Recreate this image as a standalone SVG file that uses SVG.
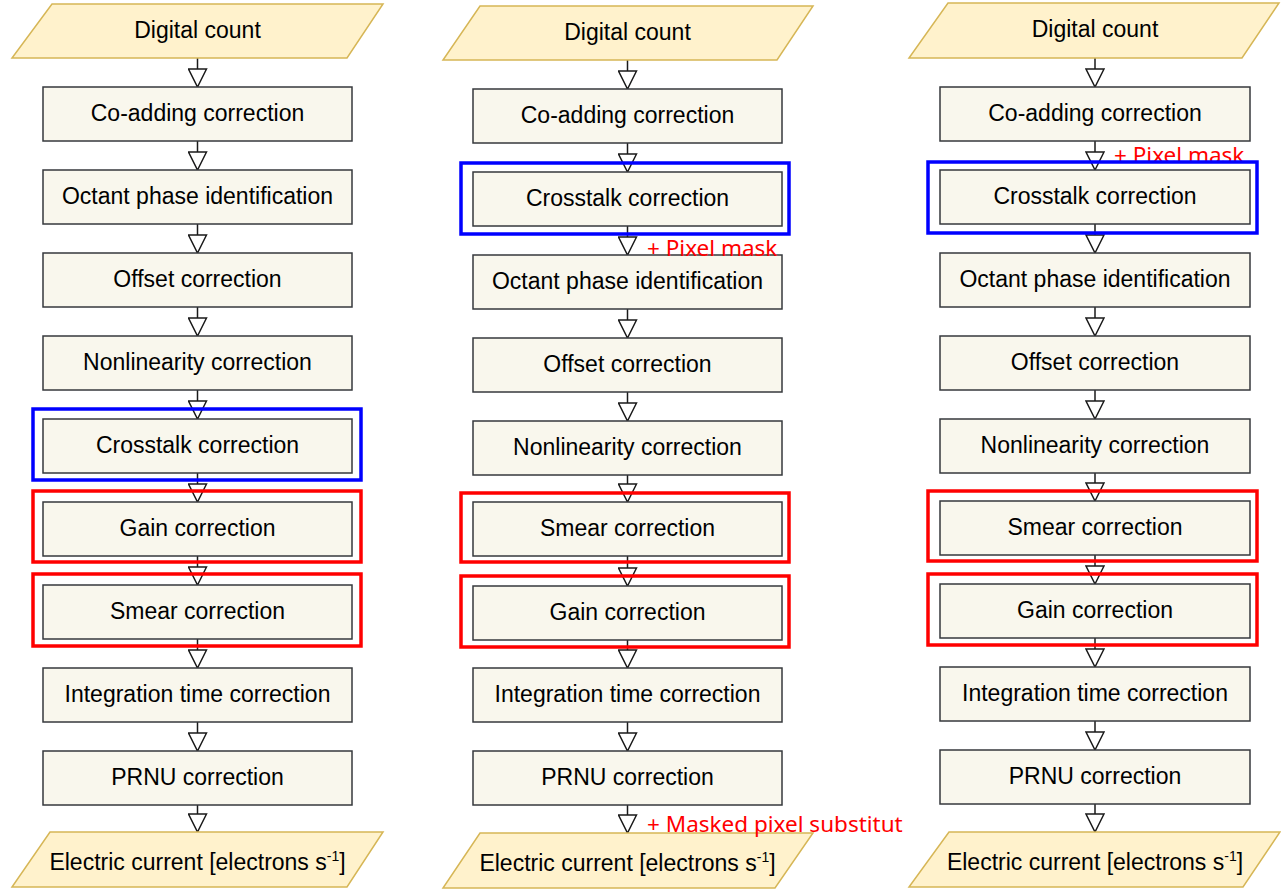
<svg xmlns="http://www.w3.org/2000/svg" width="1281" height="893" viewBox="0 0 1281 893">
<defs>
<marker id="tri" viewBox="0 0 20 20" refX="19" refY="10" markerWidth="20" markerHeight="20" markerUnits="userSpaceOnUse" orient="auto">
<path d="M1,1 L19,10 L1,19 Z" fill="#ffffff" stroke="#1a1a1a" stroke-width="1.5" stroke-linejoin="miter"/>
</marker>
</defs>
<style>
.io{fill:#fff2cc;stroke:#d6b656;stroke-width:1.5}
.box{fill:#f9f7ed;stroke:#36393d;stroke-width:1.5}
.t{font-family:"Liberation Sans",Arial,Helvetica,sans-serif;font-size:23px;fill:#000;text-anchor:middle}
.sup{font-size:14px}
.c{stroke:#1a1a1a;stroke-width:1.5;fill:none;marker-end:url(#tri)}
.note{font-family:"Noto Sans","Liberation Sans",sans-serif;font-size:22.5px;fill:#ff0000}
.hb{fill:none;stroke:#0000ff;stroke-width:3.5}
.hr{fill:none;stroke:#ff0000;stroke-width:3.5}
</style>
<rect width="1281" height="893" fill="#ffffff"/>

<g id="connectors">
<!-- column 1 -->
<path class="c" d="M197.5,58 V87"/>
<path class="c" d="M197.5,141 V170"/>
<path class="c" d="M197.5,224 V253"/>
<path class="c" d="M197.5,307 V336"/>
<path class="c" d="M197.5,390 V419"/>
<path class="c" d="M197.5,473 V502"/>
<path class="c" d="M197.5,556 V585"/>
<path class="c" d="M197.5,639 V668"/>
<path class="c" d="M197.5,722 V751"/>
<path class="c" d="M197.5,805 V832"/>
<!-- column 2 -->
<path class="c" d="M627.5,60 V89"/>
<path class="c" d="M627.5,143 V172"/>
<path class="c" d="M627.5,226 V255"/>
<path class="c" d="M627.5,309 V338"/>
<path class="c" d="M627.5,392 V421"/>
<path class="c" d="M627.5,475 V502"/>
<path class="c" d="M627.5,556 V586"/>
<path class="c" d="M627.5,640 V668"/>
<path class="c" d="M627.5,722 V751"/>
<path class="c" d="M627.5,805 V833"/>
<!-- column 3 -->
<path class="c" d="M1095,58 V87"/>
<path class="c" d="M1095,141 V170"/>
<path class="c" d="M1095,224 V253"/>
<path class="c" d="M1095,307 V336"/>
<path class="c" d="M1095,390 V419"/>
<path class="c" d="M1095,473 V501"/>
<path class="c" d="M1095,555 V584"/>
<path class="c" d="M1095,638 V667"/>
<path class="c" d="M1095,721 V750"/>
<path class="c" d="M1095,804 V832"/>
</g>

<!-- Column 1 -->
<g id="c1-digital"><polygon class="io" points="52,4 383,4 347,58 12,58"/><text class="t" x="197.5" y="38">Digital count</text></g>
<g id="c1-coadd"><rect class="box" x="43" y="87" width="309" height="54"/><text class="t" x="197.5" y="121">Co-adding correction</text></g>
<g id="c1-octant"><rect class="box" x="43" y="170" width="309" height="54"/><text class="t" x="197.5" y="204">Octant phase identification</text></g>
<g id="c1-offset"><rect class="box" x="43" y="253" width="309" height="54"/><text class="t" x="197.5" y="287">Offset correction</text></g>
<g id="c1-nonlin"><rect class="box" x="43" y="336" width="309" height="54"/><text class="t" x="197.5" y="370">Nonlinearity correction</text></g>
<g id="c1-crosstalk"><rect class="box" x="43" y="419" width="309" height="54"/><text class="t" x="197.5" y="453">Crosstalk correction</text></g>
<g id="c1-gain"><rect class="box" x="43" y="502" width="309" height="54"/><text class="t" x="197.5" y="536">Gain correction</text></g>
<g id="c1-smear"><rect class="box" x="43" y="585" width="309" height="54"/><text class="t" x="197.5" y="619">Smear correction</text></g>
<g id="c1-integ"><rect class="box" x="43" y="668" width="309" height="54"/><text class="t" x="197.5" y="702">Integration time correction</text></g>
<g id="c1-prnu"><rect class="box" x="43" y="751" width="309" height="54"/><text class="t" x="197.5" y="785">PRNU correction</text></g>
<g id="c1-electric"><polygon class="io" points="50,832 383,832 347,887 12,887"/><text class="t" x="197.5" y="870">Electric current [electrons s<tspan class="sup" dy="-9">-1</tspan><tspan dy="9">]</tspan></text></g>

<!-- Column 2 -->
<g id="c2-digital"><polygon class="io" points="480,6 813,6 777,60 443,60"/><text class="t" x="627.5" y="40">Digital count</text></g>
<g id="c2-coadd"><rect class="box" x="473" y="89" width="309" height="54"/><text class="t" x="627.5" y="123">Co-adding correction</text></g>
<g id="c2-crosstalk"><rect class="box" x="473" y="172" width="309" height="54"/><text class="t" x="627.5" y="206">Crosstalk correction</text></g>
<g id="c2-octant"><rect class="box" x="473" y="255" width="309" height="54"/><text class="t" x="627.5" y="289">Octant phase identification</text></g>
<g id="c2-offset"><rect class="box" x="473" y="338" width="309" height="54"/><text class="t" x="627.5" y="372">Offset correction</text></g>
<g id="c2-nonlin"><rect class="box" x="473" y="421" width="309" height="54"/><text class="t" x="627.5" y="455">Nonlinearity correction</text></g>
<g id="c2-smear"><rect class="box" x="473" y="502" width="309" height="54"/><text class="t" x="627.5" y="536">Smear correction</text></g>
<g id="c2-gain"><rect class="box" x="473" y="586" width="309" height="54"/><text class="t" x="627.5" y="620">Gain correction</text></g>
<g id="c2-integ"><rect class="box" x="473" y="668" width="309" height="54"/><text class="t" x="627.5" y="702">Integration time correction</text></g>
<g id="c2-prnu"><rect class="box" x="473" y="751" width="309" height="54"/><text class="t" x="627.5" y="785">PRNU correction</text></g>
<g id="c2-electric"><polygon class="io" points="480,833 813,833 775,888 443,888"/><text class="t" x="627.5" y="871">Electric current [electrons s<tspan class="sup" dy="-9">-1</tspan><tspan dy="9">]</tspan></text></g>

<!-- Column 3 -->
<g id="c3-digital"><polygon class="io" points="948,3 1279,3 1242,58 909,58"/><text class="t" x="1095" y="37">Digital count</text></g>
<g id="c3-coadd"><rect class="box" x="940" y="87" width="310" height="54"/><text class="t" x="1095" y="121">Co-adding correction</text></g>
<g id="c3-crosstalk"><rect class="box" x="940" y="170" width="310" height="54"/><text class="t" x="1095" y="204">Crosstalk correction</text></g>
<g id="c3-octant"><rect class="box" x="940" y="253" width="310" height="54"/><text class="t" x="1095" y="287">Octant phase identification</text></g>
<g id="c3-offset"><rect class="box" x="940" y="336" width="310" height="54"/><text class="t" x="1095" y="370">Offset correction</text></g>
<g id="c3-nonlin"><rect class="box" x="940" y="419" width="310" height="54"/><text class="t" x="1095" y="453">Nonlinearity correction</text></g>
<g id="c3-smear"><rect class="box" x="940" y="501" width="310" height="54"/><text class="t" x="1095" y="535">Smear correction</text></g>
<g id="c3-gain"><rect class="box" x="940" y="584" width="310" height="54"/><text class="t" x="1095" y="618">Gain correction</text></g>
<g id="c3-integ"><rect class="box" x="940" y="667" width="310" height="54"/><text class="t" x="1095" y="701">Integration time correction</text></g>
<g id="c3-prnu"><rect class="box" x="940" y="750" width="310" height="54"/><text class="t" x="1095" y="784">PRNU correction</text></g>
<g id="c3-electric"><polygon class="io" points="949,832 1280,832 1243,887 909,887"/><text class="t" x="1095" y="870">Electric current [electrons s<tspan class="sup" dy="-9">-1</tspan><tspan dy="9">]</tspan></text></g>

<g id="notes">
<text class="note" x="647" y="256">+ Pixel mask</text>
<text class="note" x="647" y="832">+ Masked pixel substitut</text>
<text class="note" x="1114" y="163">+ Pixel mask</text>
</g>

<g id="highlights">
<rect class="hb" x="33" y="409" width="328" height="71"/>
<rect class="hr" x="33" y="491" width="328" height="71"/>
<rect class="hr" x="33" y="574" width="328" height="72"/>
<rect class="hb" x="461" y="163" width="328" height="71"/>
<rect class="hr" x="461" y="493" width="328" height="69"/>
<rect class="hr" x="461" y="576" width="328" height="71"/>
<rect class="hb" x="928" y="162" width="329" height="71"/>
<rect class="hr" x="928" y="491" width="329" height="70"/>
<rect class="hr" x="928" y="574" width="329" height="71"/>
</g>
</svg>
